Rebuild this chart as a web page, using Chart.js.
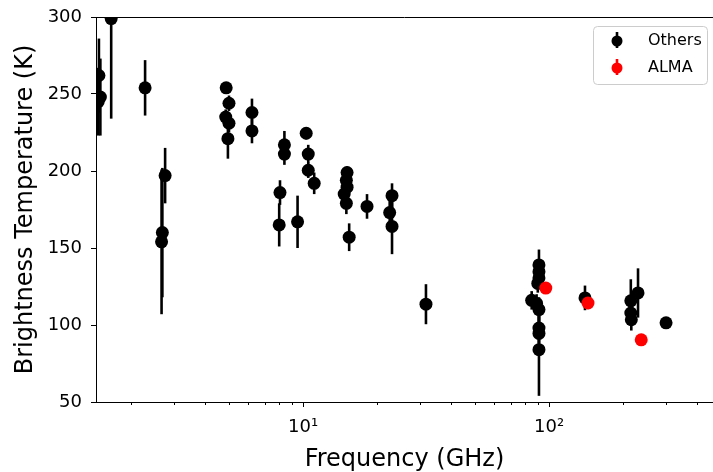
<!DOCTYPE html>
<html><head><meta charset="utf-8">
<script src="https://cdn.jsdelivr.net/npm/chart.js@4.4.0/dist/chart.umd.min.js"></script>
<style>html,body{margin:0;padding:0;background:#fff;overflow:hidden}</style>
</head><body>
<canvas id="c" width="713" height="472"></canvas>
<script>
// ---- data ----
const othersFreq = [1.48, 1.50, 1.47, 1.66, 2.28, 2.75, 2.68, 2.66,
  4.87, 5.0, 4.85, 5.0, 4.95, 6.2, 6.2, 8.4, 8.4, 8.06, 8.0, 9.5,
  10.3, 10.5, 10.5, 11.1, 15.1, 15.0, 15.1, 14.7, 15.0, 15.4, 18.2,
  23.0, 22.5, 23.0, 31.6,
  91, 91, 91, 90, 85, 89, 91, 91, 91, 91,
  140, 215, 230, 215, 216, 299];
const othersTemp = [262, 248, 245, 299, 254, 197, 160, 154,
  254, 244, 235, 231, 221, 238, 226, 217, 211, 186, 165, 167,
  224.5, 211, 200.5, 192, 199, 194, 189.5, 185, 179, 157, 177,
  184, 173, 164, 113.5,
  139, 134.6, 130.6, 127, 116, 114, 110, 98, 94.5, 84,
  117.6, 115.7, 120.8, 107.8, 103.4, 101.4];
const othersErr = [24, 25, 22, 65, 18, 18, 42, 47,
  3, 5, 5, 6, 13, 9, 8, 9, 7, 8, 14, 17,
  4, 6, 5, 7, 4, 5, 6, 6, 7, 9, 8,
  8, 12, 18, 13,
  10, 6, 6, 6, 6, 6, 8, 10, 12, 30,
  8, 14, 16, 6, 7, 2];
const almaFreq = [97, 144, 237];
const almaTemp = [124, 114.3, 90.4];
const almaErr = [3, 4, 2];

const seriesNames = ['Others', 'ALMA'];
const yTickValues = [50, 100, 150, 200, 250, 300];
const xMajorTicks = [10, 100];
const xTickLabels = ['10\u00B9', '10\u00B2'];
const xMinorTicks = [2,3,4,5,6,7,8,9,20,30,40,50,60,70,80,90,200,300,400];

const FONT = "'DejaVu Sans', sans-serif";
const toPoints = (f, t, e) => f.map((v, i) => ({x: v, y: t[i], e: e[i]}));

const extras = {
  id: 'extras',
  beforeDatasetsDraw(chart) {
    const {ctx, chartArea: a, scales: {x, y}} = chart;
    ctx.save();
    ctx.beginPath();
    ctx.rect(a.left, a.top, a.right - a.left, a.bottom - a.top);
    ctx.clip();
    ctx.lineWidth = 2.6;
    chart.data.datasets.forEach(ds => {
      ctx.strokeStyle = ds.backgroundColor;
      ds.data.forEach(p => {
        const px = x.getPixelForValue(p.x);
        ctx.beginPath();
        ctx.moveTo(px, y.getPixelForValue(p.y - p.e));
        ctx.lineTo(px, y.getPixelForValue(p.y + p.e));
        ctx.stroke();
      });
    });
    ctx.restore();
  },
  afterDraw(chart) {
    const {ctx, chartArea: a, scales: {x}} = chart;
    ctx.save();
    // top spine
    ctx.strokeStyle = '#000';
    ctx.lineWidth = 1;
    ctx.beginPath();
    ctx.moveTo(a.left, a.top + 0.5);
    ctx.lineTo(a.right, a.top + 0.5);
    ctx.stroke();
    // minor ticks on log axis
    xMinorTicks.forEach(v => {
      const px = Math.round(x.getPixelForValue(v)) + 0.5;
      if (px < a.left || px > a.right) return;
      ctx.beginPath();
      ctx.moveTo(px, a.bottom);
      ctx.lineTo(px, a.bottom + 3);
      ctx.stroke();
    });
    // legend
    const lw = 114, lh = 58;
    const lx = a.right - lw - 6, ly = a.top + 9;
    ctx.fillStyle = 'rgba(255,255,255,0.8)';
    ctx.strokeStyle = '#cccccc';
    ctx.beginPath();
    ctx.roundRect(lx + 0.5, ly + 0.5, lw, lh, 4);
    ctx.fill();
    ctx.stroke();
    ctx.font = '16px ' + FONT;
    ctx.textBaseline = 'middle';
    ctx.textAlign = 'left';
    chart.data.datasets.forEach((ds, i) => {
      const cy = ly + 15 + i * 27;
      const cx = lx + 24;
      ctx.strokeStyle = ds.backgroundColor;
      ctx.fillStyle = ds.backgroundColor;
      ctx.lineWidth = 2.6;
      ctx.beginPath();
      ctx.moveTo(cx, cy - 9);
      ctx.lineTo(cx, cy + 7);
      ctx.stroke();
      ctx.beginPath();
      ctx.arc(cx, cy, 5.5, 0, Math.PI * 2);
      ctx.fill();
      ctx.fillStyle = '#000';
      ctx.fillText(ds.label, lx + 55, cy);
    });
    ctx.restore();
  }
};

new Chart(document.getElementById('c'), {
  type: 'scatter',
  data: {
    datasets: [
      {label: seriesNames[0], data: toPoints(othersFreq, othersTemp, othersErr),
       backgroundColor: '#000000', borderWidth: 0, pointRadius: 6.5, order: 2, clip: 0},
      {label: seriesNames[1], data: toPoints(almaFreq, almaTemp, almaErr),
       backgroundColor: '#ff0000', borderWidth: 0, pointRadius: 6.5, order: 1, clip: 0}
    ]
  },
  options: {
    responsive: false,
    animation: false,
    events: [],
    layout: {autoPadding: false, padding: {top: 17, right: 0, left: 0, bottom: 0}},
    plugins: {legend: {display: false}, tooltip: {enabled: false}},
    scales: {
      x: {
        type: 'logarithmic', min: 1.44, max: 464,
        afterBuildTicks: s => { s.ticks = xMajorTicks.map(v => ({value: v})); },
        afterFit: s => { s.height = 70; s.paddingRight = 0; s.paddingLeft = 0; },
        ticks: {
          autoSkip: false, maxRotation: 0, padding: 10, color: '#000',
          font: {family: FONT, size: 18},
          callback: v => { const i = xMajorTicks.indexOf(v); return i >= 0 ? xTickLabels[i] : ''; }
        },
        grid: {drawOnChartArea: false, tickLength: 5, tickColor: '#000', tickWidth: 1},
        border: {color: '#000', width: 1},
        title: {display: true, text: 'Frequency (GHz)', color: '#000',
                font: {family: FONT, size: 24}, padding: {top: 0, bottom: -2}}
      },
      y: {
        type: 'linear', min: 50, max: 300,
        afterBuildTicks: s => { s.ticks = yTickValues.map(v => ({value: v})); },
        afterFit: s => { s.width = 96; s.paddingTop = 0; s.paddingBottom = 0; },
        ticks: {color: '#000', padding: 9, font: {family: FONT, size: 18}},
        grid: {drawOnChartArea: false, tickLength: 5, tickColor: '#000', tickWidth: 1},
        border: {color: '#000', width: 1},
        title: {display: true, text: 'Brightness Temperature (K)', color: '#000',
                font: {family: FONT, size: 24}, padding: {top: 11, bottom: 0}}
      }
    }
  },
  plugins: [extras]
});
</script>
</body></html>
